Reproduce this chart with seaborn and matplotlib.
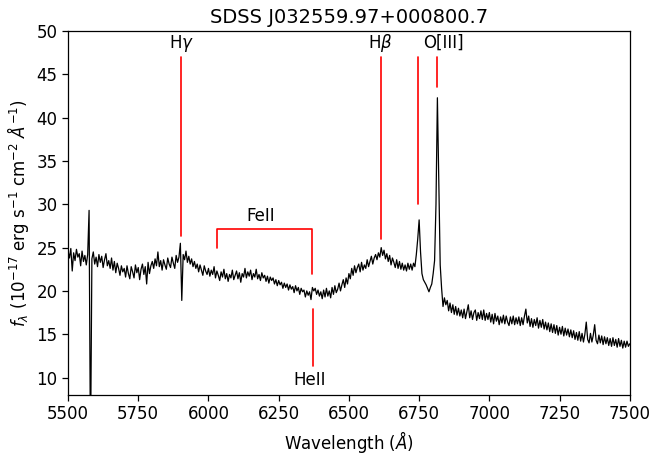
import numpy as np
import pandas as pd
import matplotlib
matplotlib.use("Agg")
import matplotlib.pyplot as plt
import seaborn as sns

# ---- data ----
wave_start, wave_step = 5500, 5
flux = [
    # 5500-5595
    24.6, 23.8, 24.9, 22.3, 24.4, 23.5, 24.8, 23.9, 24.3, 22.9, 24.6, 23.4, 24.1, 23.0, 24.2, 29.3, 1.0, 23.7, 24.5, 23.1,
    # 5600-5695
    23.9, 22.8, 24.2, 23.3, 24.0, 22.7, 23.6, 24.3, 22.9, 23.5, 22.6, 23.8, 22.4, 23.4, 22.1, 23.2, 22.6, 21.8, 22.9, 22.2,
    # 5700-5795
    22.6, 21.6, 22.9, 22.0, 21.4, 22.8, 22.2, 21.5, 23.0, 22.1, 22.7, 21.3, 22.5, 23.1, 21.9, 22.8, 20.8, 23.3, 22.0, 22.9,
    # 5800-5895
    23.4, 22.6, 23.7, 22.9, 24.5, 22.8, 23.5, 22.4, 23.6, 23.0, 22.5, 23.8, 23.1, 22.7, 23.9, 23.2, 22.6, 24.1, 23.3, 23.9,
    # 5900-5995
    25.5, 18.9, 24.2, 23.6, 24.6, 23.3, 24.0, 23.1, 23.7, 22.8, 23.4, 22.6, 23.1, 22.2, 23.0, 22.4, 21.8, 22.9, 22.3, 21.9,
    # 6000-6095
    22.6, 21.7, 22.4, 21.9, 22.8, 21.5, 22.3, 21.8, 21.2, 22.2, 21.6, 22.5, 21.4, 22.0, 21.1, 21.9, 21.5, 22.4, 21.3, 21.8,
    # 6100-6195
    22.3, 21.4, 22.1, 21.0, 22.0, 21.6, 22.6, 21.5, 22.2, 21.7, 22.4, 21.3, 22.0, 21.6, 22.5, 21.4, 21.9, 21.2, 22.1, 21.5,
    # 6200-6295
    21.8, 21.1, 21.7, 20.9, 21.6, 21.2, 21.5, 20.8, 21.3, 20.6, 21.2, 20.7, 21.0, 20.3, 20.9, 20.4, 20.8, 20.1, 20.7, 20.2,
    # 6300-6395
    20.5, 19.8, 20.6, 20.0, 20.4, 19.6, 20.3, 19.9, 20.1, 19.3, 20.0, 19.5, 19.9, 19.0, 20.4, 20.0, 20.3, 19.6, 20.1, 19.4,
    # 6400-6495
    19.9, 19.1, 20.1, 19.3, 20.3, 19.4, 20.0, 19.2, 20.4, 19.6, 20.6, 19.8, 20.2, 20.9, 20.0, 20.7, 21.3, 20.4, 21.5, 20.8,
    # 6500-6595
    22.0, 21.4, 22.6, 21.8, 22.9, 22.1, 22.7, 23.1, 22.2, 23.3, 22.4, 23.0, 22.6, 23.6, 22.8, 23.4, 24.0, 23.1, 23.8, 24.2,
    # 6600-6695
    23.6, 24.4, 23.9, 25.0, 24.1, 24.7, 23.7, 24.3, 23.4, 24.1, 23.0, 23.8, 23.3, 22.7, 23.6, 22.6, 23.4, 22.5, 23.2, 22.4,
    # 6700-6795
    23.0, 22.3, 23.2, 22.5, 23.1, 22.4, 23.2, 22.8, 24.2, 26.0, 28.2, 24.5, 22.0, 21.3, 21.0, 20.7, 20.3, 19.9, 20.4, 20.8,
    # 6800-6895
    22.0, 23.5, 30.0, 42.3, 33.0, 23.0, 20.3, 18.2, 19.2, 18.4, 18.9, 17.7, 18.6, 17.5, 18.4, 17.3, 18.2, 17.2, 18.0, 17.1,
    # 6900-6995
    17.8, 16.9, 17.9, 16.8, 17.6, 18.4, 16.9, 17.7, 16.7, 17.5, 17.8, 16.6, 17.5, 16.8, 17.7, 16.7, 17.8, 16.6, 17.4, 16.7,
    # 7000-7095
    17.5, 16.4, 17.3, 16.2, 17.4, 16.5, 17.1, 16.1, 17.0, 16.3, 17.2, 16.2, 17.1, 16.4, 16.0, 17.0, 16.2, 17.1, 16.1, 16.9,
    # 7100-7195
    16.2, 17.0, 16.0, 16.9, 16.1, 17.1, 17.9, 16.3, 17.1, 15.9, 16.8, 15.8, 16.7, 16.0, 16.9, 15.7, 16.6, 15.8, 16.7, 15.6,
    # 7200-7295
    16.4, 15.5, 16.3, 15.3, 16.2, 15.2, 16.1, 15.1, 16.0, 14.9, 15.8, 15.0, 15.9, 14.8, 15.7, 14.9, 15.6, 14.7, 15.5, 14.6,
    # 7300-7395
    15.4, 14.4, 15.2, 14.3, 15.3, 14.2, 15.1, 14.1, 15.0, 16.4, 14.4, 14.0, 15.1, 14.1, 14.9, 16.1, 14.3, 13.9, 14.9, 14.0,
    # 7400-7500
    14.8, 13.8, 14.7, 13.9, 14.6, 13.7, 14.5, 13.6, 14.6, 13.7, 14.4, 13.5, 14.5, 13.6, 14.3, 13.4, 14.2, 13.5, 14.2, 13.6, 13.9,
]
wavelength = [wave_start + wave_step * i for i in range(len(flux))]

title = "SDSS J032559.97+000800.7"
x_ticks = [5500, 5750, 6000, 6250, 6500, 6750, 7000, 7250, 7500]
y_ticks = [10, 15, 20, 25, 30, 35, 40, 45, 50]

# emission-line markers (observed wavelength, lower end, upper end)
line_labels = ["H$\\gamma$", "H$\\beta$", "O[III]"]
line_label_x = [5904, 6613, 6835]
marker_x = [5904, 6613, 6747, 6813]
marker_lo = [26.3, 26.0, 30.0, 43.6]
marker_hi = [47.0, 47.0, 47.0, 47.0]

feii_x = [6030, 6030, 6370, 6370]
feii_y = [25.0, 27.1, 27.1, 22.0]
heii_x = 6373
heii_lo, heii_hi = 11.3, 17.9

df = pd.DataFrame({"wavelength": wavelength, "flux": flux})

sns.set_theme(style="ticks")
plt.rcParams["font.family"] = ["DejaVu Sans"]
plt.rcParams["mathtext.fontset"] = "dejavusans"
plt.rcParams["text.color"] = "black"
plt.rcParams["axes.labelcolor"] = "black"
plt.rcParams["xtick.color"] = "black"
plt.rcParams["ytick.color"] = "black"

fig = plt.figure(figsize=(6.54, 4.57), dpi=100)
ax = fig.add_axes([0.104, 0.136, 0.859, 0.796])

sns.lineplot(data=df, x="wavelength", y="flux", color="black", linewidth=0.9,
             estimator=None, sort=False, ax=ax)

red = "#ff0000"
for x, lo, hi in zip(marker_x, marker_lo, marker_hi):
    ax.plot([x, x], [lo, hi], color=red, lw=1.2)
for lab, x in zip(line_labels, line_label_x):
    ax.text(x, 48.6, lab, ha="center", va="center", fontsize=12, color="black")

ax.plot(feii_x, feii_y, color=red, lw=1.2)
ax.text(6187, 28.7, "FeII", ha="center", va="center", fontsize=12, color="black")
ax.plot([heii_x, heii_x], [heii_lo, heii_hi], color=red, lw=1.2)
ax.text(6361, 9.7, "HeII", ha="center", va="center", fontsize=12, color="black")

ax.set_xlim(5500, 7500)
ax.set_ylim(8, 50)
ax.set_xticks(x_ticks)
ax.set_yticks(y_ticks)
ax.tick_params(labelsize=12, direction="out", length=4, width=0.9, colors="black")
for s in ax.spines.values():
    s.set_color("black")
    s.set_linewidth(0.9)
ax.set_xlabel("Wavelength ($\\AA$)", fontsize=12, color="black")
ax.set_ylabel("$f_\\lambda$ ($10^{-17}$ erg s$^{-1}$ cm$^{-2}$ $\\AA^{-1}$)", fontsize=12, color="black")
ax.set_title(title, fontsize=14, color="black")

fig.savefig("out.png", dpi=100, facecolor="white")
